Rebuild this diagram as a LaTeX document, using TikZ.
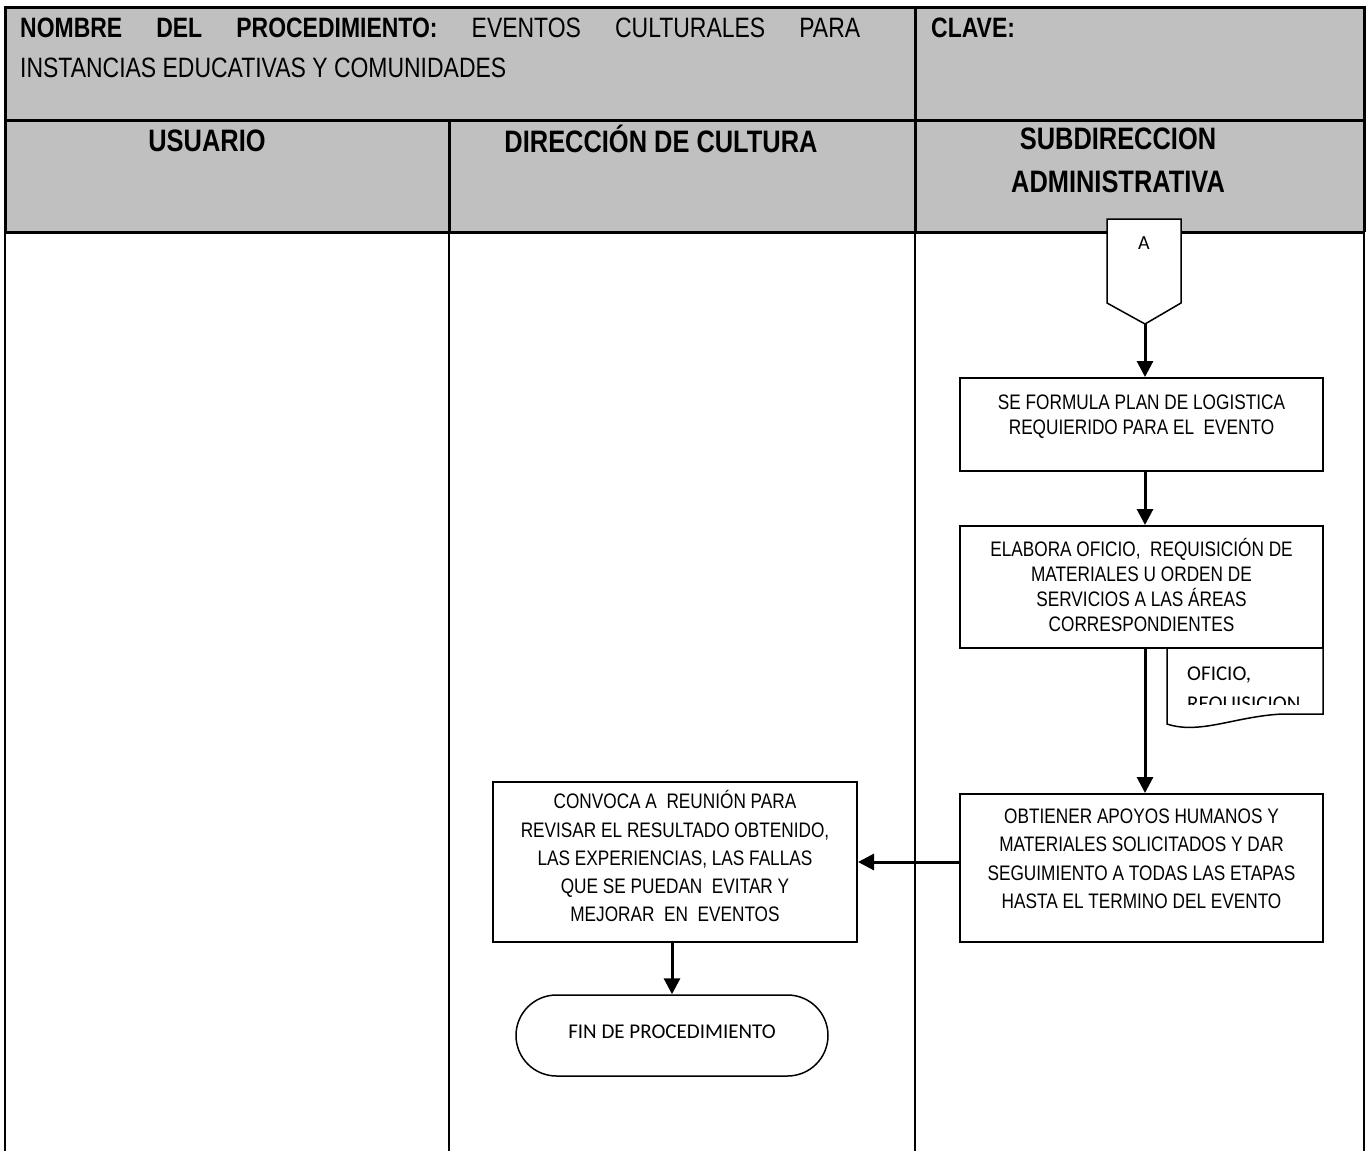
\documentclass[tikz,border=0pt]{standalone}
\usepackage{fontspec}
\setmainfont{Liberation Sans}
\newfontfamily\narrow[FakeStretch=0.82]{Liberation Sans}
\newfontfamily\calib{Carlito}
\usetikzlibrary{arrows.meta,shapes.misc}
\definecolor{hdrgray}{HTML}{C0C0C0}

\begin{document}
\begin{tikzpicture}[x=1pt,y=-1pt,
  hdrline/.style={line width=3pt},
  laneline/.style={line width=1.6pt},
  procbox/.style={draw,line width=2pt,fill=white,inner sep=0pt},
  boxtext/.style={inner sep=0pt,align=center,
    execute at begin node=\strut,execute at end node=\strut},
  tsmall/.style={boxtext,font=\narrow\fontsize{21}{25}\selectfont},
  twide/.style={boxtext,font=\narrow\fontsize{21}{28.3}\selectfont},
  lanehead/.style={inner sep=0pt,anchor=base,font=\narrow\bfseries\fontsize{31}{37}\selectfont},
  flow/.style={line width=3pt,-{Triangle[length=16pt,width=16pt]}},
]
\useasboundingbox (0,0) rectangle (1369,1151);

% header band
\fill[hdrgray] (5,7) rectangle (1364,232);
\draw[hdrline] (5,7) -- (1364,7);
\draw[hdrline] (5,120) -- (1364,120);
\draw[hdrline] (5,232) -- (1364,232);
\draw[hdrline] (5,5.5) -- (5,232);
\draw[hdrline] (1364,5.5) -- (1364,232);
\draw[hdrline] (915,7) -- (915,232);
\draw[hdrline] (449,120) -- (449,232);

% swimlane borders
\draw[laneline] (5,232) -- (5,1151);
\draw[laneline] (449,232) -- (449,1151);
\draw[laneline] (915,232) -- (915,1151);
\draw[laneline] (1364,232) -- (1364,1151);

% title block
\node[inner sep=0pt,anchor=base west,font=\narrow\fontsize{28}{34}\selectfont] (title1) at (20,37)
  {\makebox[840pt][s]{\bfseries NOMBRE DEL PROCEDIMIENTO:\mdseries{} EVENTOS CULTURALES PARA}};
\node[inner sep=0pt,anchor=base west,font=\narrow\fontsize{28}{34}\selectfont] (title2) at (20,77)
  {INSTANCIAS EDUCATIVAS Y COMUNIDADES};
\node[inner sep=0pt,anchor=base west,font=\narrow\bfseries\fontsize{28}{34}\selectfont] (clave) at (931,37) {CLAVE:};

% lane titles
\node[lanehead] (hUsr) at (207,151) {USUARIO};
\node[lanehead] (hDir) at (661,152) {DIRECCIÓN DE CULTURA};
\node[lanehead] (hSub1) at (1118,149) {SUBDIRECCION};
\node[lanehead] (hSub2) at (1118,192) {ADMINISTRATIVA};

% off-page connector
\draw[line width=1.5pt,fill=white] (1107,219) -- (1181,219) -- (1181,303) -- (1145,324) -- (1107,303) -- cycle;
\coordinate (Atip) at (1145,324);
\node[inner sep=0pt,font=\calib\fontsize{20}{24}\selectfont] (Alabel) at (1144,243) {A};

% process boxes
\node[procbox,minimum width=363pt,minimum height=93pt] (b1) at (1141.5,424.5) {};
\node[tsmall] (b1t) at (1141.5,418) {SE FORMULA PLAN DE LOGISTICA\\REQUIERIDO PARA EL\ \ EVENTO};

% document symbol under box 2
\draw[line width=1.5pt,fill=white] (1167,646) -- (1167,724)
  .. controls (1200,735) and (1236,716) .. (1283,714) -- (1323,714) -- (1323,646);
\begin{scope}
  \clip (1168,648) rectangle (1322,704);
  \node[inner sep=0pt,anchor=base west,font=\calib\fontsize{21}{25}\selectfont] (docA) at (1187,680) {OFICIO,};
  \node[inner sep=0pt,anchor=base west,font=\calib\fontsize{21}{25}\selectfont] (docB) at (1187,710) {REQUISICION};
\end{scope}

\node[procbox,minimum width=363pt,minimum height=122pt] (b2) at (1141.5,587) {};
\node[tsmall] (b2t) at (1141.5,589) {ELABORA OFICIO,\ \ REQUISICIÓN DE\\MATERIALES U ORDEN DE\\SERVICIOS A LAS ÁREAS\\CORRESPONDIENTES};

\node[procbox,minimum width=363pt,minimum height=148pt] (b3) at (1141.5,868) {};
\node[twide] (b3t) at (1141.5,863) {OBTIENER APOYOS HUMANOS Y\\MATERIALES SOLICITADOS Y DAR\\SEGUIMIENTO A TODAS LAS ETAPAS\\HASTA EL TERMINO DEL EVENTO};

\node[procbox,minimum width=364pt,minimum height=160pt] (b4) at (675,862) {};
\node[twide] (b4t) at (675,860.5) {CONVOCA A\ \ REUNIÓN PARA\\REVISAR EL RESULTADO OBTENIDO,\\LAS EXPERIENCIAS, LAS FALLAS\\QUE SE PUEDAN\ \ EVITAR Y\\MEJORAR\ \ EN\ \ EVENTOS};

% terminator
\node[draw,line width=1.5pt,fill=white,rounded rectangle,rounded rectangle arc length=180,
  minimum width=312pt,minimum height=81pt,inner sep=0pt,text depth=7pt,
  font=\calib\fontsize{21}{25}\selectfont] (fin) at (672,1035.5) {FIN DE PROCEDIMIENTO};

% flow connectors
\draw[flow] (Atip) -- (Atip |- b1.north);
\draw[flow] (b1.south -| Atip) -- (b2.north -| Atip);
\draw[flow] (b2.south -| Atip) -- (b3.north -| Atip);
\draw[flow] (b3.west |- b4.east) -- (b4.east);
\draw[flow] (b4.south -| fin) -- (fin.north);
\end{tikzpicture}
\end{document}
